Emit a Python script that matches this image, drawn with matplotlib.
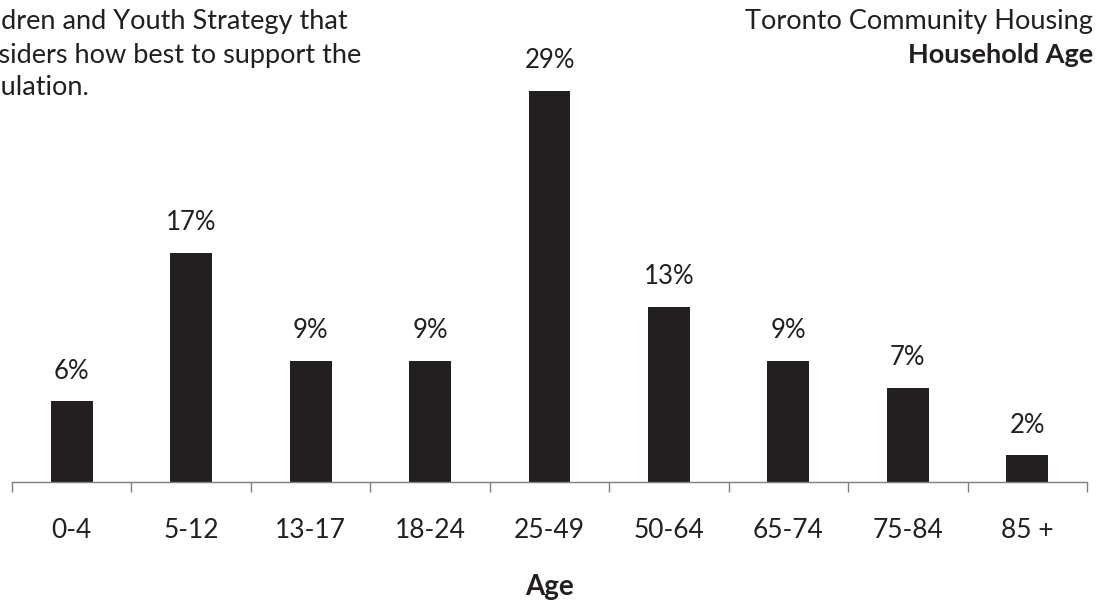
import matplotlib
matplotlib.use("Agg")
import matplotlib.pyplot as plt
import numpy as np

plt.rcParams['font.family'] = ['Lato', 'DejaVu Sans']

# household age distribution, percent
age_groups = ["0-4", "5-12", "13-17", "18-24", "25-49", "50-64", "65-74", "75-84", "85 +"]
share_pct = [6, 17, 9, 9, 29, 13, 9, 7, 2]

INK = "#231f20"
W, H = 1112, 609

fig = plt.figure(figsize=(W / 100, H / 100), dpi=100)
# axes placed in pixel terms: baseline at y=482, 13.5 px per percent
x0, x1 = 12, 1087
base = 482
ymax = 35
ppp = 13.5
ax = fig.add_axes([x0 / W, (H - base) / H, (x1 - x0) / W, ymax * ppp / H])

x = np.arange(len(age_groups))
ax.bar(x, share_pct, width=0.35, color=INK)
for xi, v in zip(x, share_pct):
    ax.annotate(f"{v}%", (xi, v), xytext=(0, 16), textcoords="offset points",
                ha="center", va="baseline", fontsize=18.5, color=INK)

ax.set_xlim(-0.5, len(age_groups) - 0.5)
ax.set_ylim(0, ymax)
for s in ["top", "right", "left"]:
    ax.spines[s].set_visible(False)
ax.spines["bottom"].set_color("#7f7f7f")
ax.spines["bottom"].set_linewidth(1.0)
ax.set_yticks([])

ax.set_xticks(x)
ax.set_xticklabels(age_groups, fontsize=19, color=INK)
ax.tick_params(axis="x", which="major", length=0, pad=26)
ax.set_xticks(np.arange(-0.5, len(age_groups)), minor=True)
ax.tick_params(axis="x", which="minor", length=7, width=1, color="#7f7f7f", direction="out")

ax.set_xlabel("Age", fontsize=20, fontweight="bold", color=INK, labelpad=22)

# header text
fig.text(1093 / W, 1 - 22 / H, "Toronto Community Housing", ha="right", va="center",
         fontsize=19.5, color=INK)
fig.text(1093 / W, 1 - 55 / H, "Household Age", ha="right", va="center",
         fontsize=19.5, fontweight="bold", color=INK)

intro = ["Children and Youth Strategy that",
         "considers how best to support the",
         "population."]
for i, line in enumerate(intro):
    fig.text(-45 / W, 1 - (22 + 33 * i) / H, line, ha="left", va="center",
             fontsize=19.5, color=INK)

fig.savefig("out.png", dpi=100)
